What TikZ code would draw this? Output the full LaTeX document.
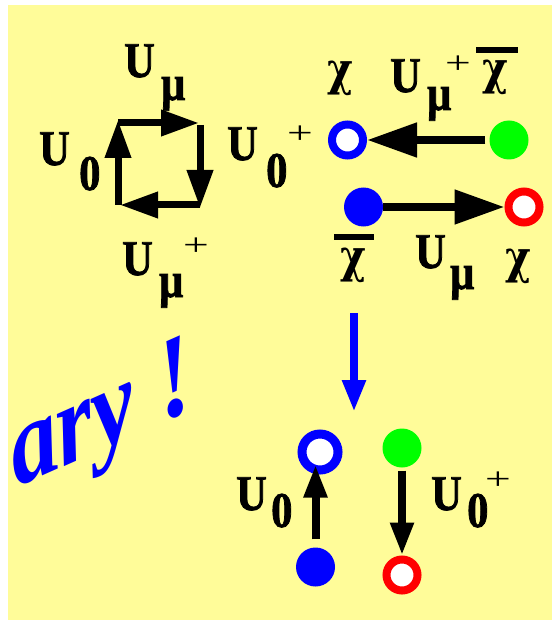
\documentclass[tikz,border=0pt]{standalone}
\usepackage{fontspec}
\usepackage{graphicx}
\setmainfont{Liberation Serif}
\newfontfamily\labfont[FakeStretch=0.85,FakeBold=1.5]{Liberation Serif}
\newfontfamily\chifont[FakeStretch=0.85]{DejaVu Serif}
\newfontfamily\bigfont[FakeStretch=0.92,FakeSlant=0.25]{Liberation Serif}
\usetikzlibrary{arrows.meta}
\definecolor{bgyellow}{RGB}{255,252,153}
\definecolor{pblue}{RGB}{0,0,255}
\definecolor{pgreen}{RGB}{0,255,0}
\definecolor{pred}{RGB}{255,0,0}
\begin{document}
\begin{tikzpicture}[x=1pt,y=-1pt,
  lab/.style={inner sep=0pt, anchor=base west, font=\labfont\bfseries\fontsize{50}{52}\selectfont},
  chil/.style={inner sep=0pt, anchor=base west, font=\chifont\bfseries\fontsize{46}{50}\selectfont},
  plus/.style={inner sep=0pt, font=\fontsize{48}{50}\selectfont},
  openc/.style={circle, draw=#1, line width=8pt, fill=white, minimum size=31pt, inner sep=0pt},
  fillc/.style={circle, fill=#1, minimum size=39pt, inner sep=0pt},
  bigarr/.style={line width=8pt, -{Triangle[length=50pt,width=33pt]}},
  looparr/.style={line width=7pt, -{Triangle[length=38pt,width=25pt]}},
  smallarr/.style={line width=8pt, -{Triangle[length=33pt,width=22pt]}},
  barline/.style={line width=6pt}
]
\useasboundingbox (0,0) rectangle (552,620);
\fill[white] (0,0) rectangle (552,620);
\fill[bgyellow] (8,5) rectangle (552,620);

% plaquette loop
\coordinate (ll) at (118,205);
\coordinate (lt) at (118,120);
\coordinate (tl) at (118,123);
\coordinate (tr) at (199,123);
\coordinate (rt) at (200,125);
\coordinate (rb) at (200,208);
\coordinate (br) at (200,205);
\coordinate (bl) at (120,205);
\draw[looparr] (ll) -- (lt);
\draw[looparr] (tl) -- (tr);
\draw[looparr] (rt) -- (rb);
\draw[looparr] (br) -- (bl);

\node[lab] (u1) at (124,77) {U};
\node[lab] (u1s) at (161,100) {μ};
\node[lab] (u2) at (39,165) {U};
\node[lab] (u2s) at (79,190) {0};
\node[lab] (u3) at (227,160) {U};
\node[lab] (u3s) at (266,187) {0};
\node[plus] (u3p) at (300,135) {\scalebox{0.95}[0.65]{+}};
\node[lab] (u4) at (122,275) {U};
\node[lab] (u4s) at (159,297) {μ};
\node[plus] (u4p) at (196,247) {\scalebox{0.95}[0.65]{+}};

% top right
\node[openc=pblue] (bo1) at (347.5,140) {};
\node[fillc=pgreen] (g1) at (509,140) {};
\node[fillc=pblue] (bf1) at (363.5,207) {};
\node[openc=pred] (ro1) at (524,207) {};
\draw[bigarr] ([xshift=-4pt]g1.west) -- (bo1.east);
\draw[bigarr] (bf1.east) -- (ro1.west);

\node[chil] (c1) at (327,86) {χ};
\node[lab] (u5) at (390,92) {U};
\node[lab] (u5s) at (427,110) {μ};
\node[plus] (u5p) at (458,65) {\scalebox{0.95}[0.65]{+}};
\node[chil] (c2) at (482,85) {χ};
\draw[barline] (476,50) -- (518,50);
\draw[barline] (334,236.5) -- (374,236.5);
\node[chil] (c3) at (340,272) {χ};
\node[lab] (u6) at (415,268) {U};
\node[lab] (u6s) at (450,289) {μ};
\node[chil] (c4) at (505,273) {χ};

% blue arrow
\coordinate (ba1) at (354,313);
\coordinate (ba2) at (354,412);
\draw[line width=8pt, pblue, -{Triangle[length=32pt,width=22pt]}] (ba1) -- (ba2);

% bottom
\node[circle, draw=pblue, line width=9pt, fill=white, minimum size=36pt, inner sep=0pt] (bo2) at (320,452) {};
\node[fillc=pgreen] (g2) at (402,448) {};
\node[fillc=pblue] (bf2) at (315.5,567) {};
\node[openc=pred] (ro2) at (402,575) {};
\path (bf2.north |- bo2.south) coordinate (t1);
\draw[smallarr] ([yshift=8pt]bf2.north) -- ([yshift=10pt]t1);
\draw[smallarr] ([yshift=-3pt]g2.south) -- (ro2.north);

\node[lab] (u7) at (236,510) {U};
\node[lab] (u7s) at (271,527) {0};
\node[lab] (u8) at (431,510) {U};
\node[lab] (u8s) at (467,527) {0};
\node[plus] (u8p) at (498,481) {\scalebox{0.95}[0.65]{+}};

% rotated text
\node[inner sep=0pt, anchor=base west, rotate=24, text=pblue,
  font=\bigfont\bfseries\itshape\fontsize{110}{112}\selectfont] (txt) at (16,488) {ary !};
\end{tikzpicture}
\end{document}
